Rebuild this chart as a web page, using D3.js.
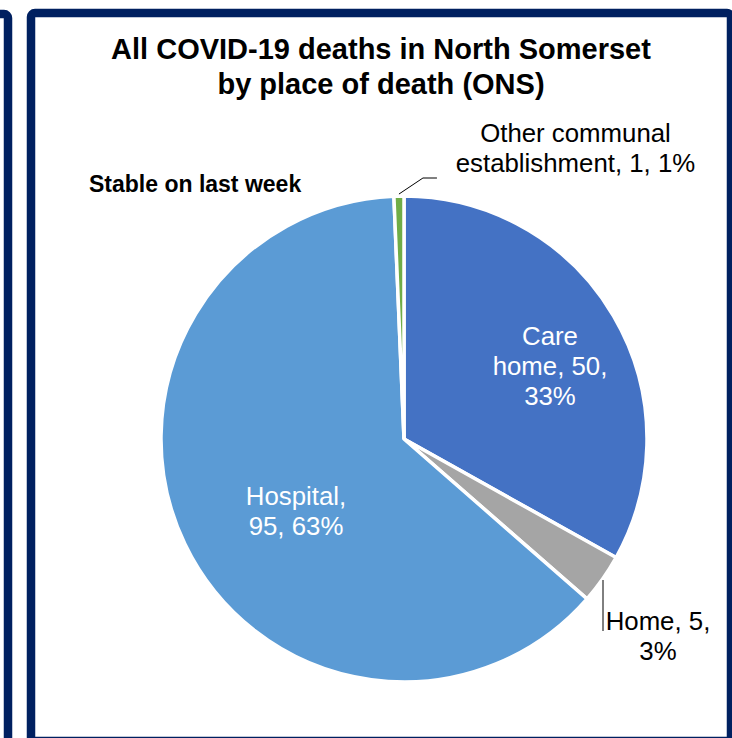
<!DOCTYPE html>
<html><head><meta charset="utf-8">
<script src="https://cdn.jsdelivr.net/npm/d3@7"></script>
<style>html,body{margin:0;padding:0;background:#fff;}svg{display:block;font-family:"Liberation Sans",Arial,sans-serif;}</style>
</head><body>
<script>
const categories = ["Care home", "Home", "Hospital", "Other communal establishment"];
const values = [50, 5, 95, 1];
const percents = ["33%", "3%", "63%", "1%"];
const colors = ["#4472C4", "#A5A5A5", "#5B9BD5", "#70AD47"];
const titleLines = ["All COVID-19 deaths in North Somerset", "by place of death (ONS)"];
const note = "Stable on last week";

const W = 732, H = 738;
const svg = d3.select("body").append("svg").attr("width", W).attr("height", H);

// panel borders
svg.append("rect").attr("x", -40).attr("y", 14).attr("width", 48).attr("height", 760)
  .attr("rx", 4).attr("fill", "none").attr("stroke", "#002060").attr("stroke-width", 8.5);
svg.append("rect").attr("x", 31).attr("y", 13).attr("width", 700).attr("height", 728)
  .attr("rx", 4).attr("fill", "#fff").attr("stroke", "#002060").attr("stroke-width", 8.5);

// title
svg.selectAll("text.title").data(titleLines).join("text").attr("class", "title")
  .attr("x", 381).attr("y", (d, i) => 59 + i * 35)
  .attr("text-anchor", "middle").attr("font-weight", "bold").attr("font-size", 29)
  .attr("fill", "#000").text(d => d);

svg.append("text").attr("x", 89).attr("y", 192).attr("font-weight", "bold")
  .attr("font-size", 23).attr("fill", "#000").text(note);

const cx = 404, cy = 439, r = 243;
const pie = d3.pie().sort(null).value(d => d.v);
const data = categories.map((c, i) => ({c, v: values[i], p: percents[i], col: colors[i]}));
const arcs = pie(data);
const arc = d3.arc().innerRadius(0).outerRadius(r);
const g = svg.append("g").attr("transform", `translate(${cx},${cy})`);
g.selectAll("path").data(arcs).join("path").attr("d", arc)
  .attr("fill", d => d.data.col).attr("stroke", "#fff").attr("stroke-width", 3.5)
  .attr("stroke-linejoin", "miter");

// labels
function lines(x, y, arr, fill, size) {
  svg.append("g").selectAll("text").data(arr).join("text")
    .attr("x", x).attr("y", (d, i) => y + i * 30).attr("text-anchor", "middle")
    .attr("font-size", size).attr("fill", fill).text(d => d);
}
const L = arcs.map(a => a.data);
const fs = 25.8;
lines(550, 345, ["Care", "home, " + L[0].v + ",", L[0].p], "#fff", fs);
lines(296, 505, [L[2].c + ",", L[2].v + ", " + L[2].p], "#fff", fs);
lines(575.5, 142, ["Other communal", "establishment, " + L[3].v + ", " + L[3].p], "#000", fs);
lines(658, 630, [L[1].c + ", " + L[1].v + ",", L[1].p], "#000", fs);

// leader lines
const aOther = arcs[3];
const mo = (aOther.startAngle + aOther.endAngle) / 2;
const po = [cx + r * Math.sin(mo), cy - r * Math.cos(mo)];
svg.append("polyline").attr("points", `${po[0]},${po[1] - 2} ${po[0] + 24},${178} ${po[0] + 38},${178}`)
  .attr("fill", "none").attr("stroke", "#000").attr("stroke-width", 1);
svg.append("line").attr("x1", 603).attr("y1", 580).attr("x2", 603).attr("y2", 631)
  .attr("stroke", "#000").attr("stroke-width", 1);
</script>
</body></html>
